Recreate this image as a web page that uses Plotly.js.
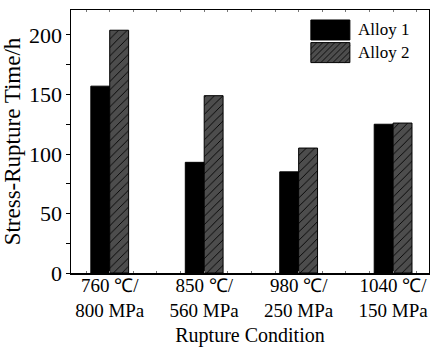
<!DOCTYPE html>
<html><head><meta charset="utf-8">
<script src="https://cdn.plot.ly/plotly-3.0.1.min.js"></script>
<style>html,body{margin:0;padding:0;background:#fff}#chart{width:430px;height:349px}</style>
</head><body><div id="chart"></div>
<script>
const categories = ["760 ℃/<br>800 MPa", "850 ℃/<br>560 MPa", "980 ℃/<br>250 MPa", "1040 ℃/<br>150 MPa"];
const seriesNames = ["Alloy 1", "Alloy 2"];
const alloy1 = [157, 93, 85, 125];
const alloy2 = [204, 149, 105, 126];
const yTicks = [0, 50, 100, 150, 200];

const xIdx = categories.map((_, i) => i);
const font = "Liberation Serif";

const traces = [
  {type: "bar", name: seriesNames[0], x: xIdx, y: alloy1,
   marker: {color: "#000000", line: {color: "#000", width: 1}}, showlegend: false},
  {type: "bar", name: seriesNames[1], x: xIdx, y: alloy2,
   marker: {color: "#4d4d4d", line: {color: "#000", width: 1},
            pattern: {shape: "/", fgcolor: "#000000", bgcolor: "#4d4d4d", size: 6, solidity: 0.15}},
   showlegend: false}
];

const L = 71, T = 10, W = 358, H = 263;
const shapes = [
  {type: "rect", xref: "paper", yref: "paper", x0: 0.670, x1: 0.779, y0: 0.886, y1: 0.962,
   fillcolor: "#000", line: {color: "#000", width: 1}},
  {type: "rect", xref: "paper", yref: "paper", x0: 0.670, x1: 0.779, y0: 0.800, y1: 0.876,
   fillcolor: "#4d4d4d", line: {color: "#000", width: 1}}
];
(function(){
  const px0 = 0.670*W, px1 = 0.779*W, pyb = 0.800*H, pyt = 0.876*H;
  const h = pyt - pyb;
  let d = "";
  for (let s = px0 - h; s < px1; s += 6) {
    let ax = s, ay = pyb, bx = s + h, by = pyt;
    if (ax < px0) { ay = pyb + (px0 - ax); ax = px0; }
    if (bx > px1) { by = pyt - (bx - px1); bx = px1; }
    if (bx <= ax) continue;
    d += `M${(ax/W).toFixed(4)},${(ay/H).toFixed(4)}L${(bx/W).toFixed(4)},${(by/H).toFixed(4)}`;
  }
  shapes.push({type: "path", xref: "paper", yref: "paper", path: d,
    line: {color: "#000", width: 0.8}, layer: "above"});
})();

const layout = {
  width: 430, height: 349,
  margin: {l: 71, r: 1, t: 10, b: 76},
  paper_bgcolor: "#fff", plot_bgcolor: "#fff",
  font: {family: font, color: "#000"},
  barmode: "group", bargap: 0.6, bargroupgap: 0,
  xaxis: {
    range: [-0.41, 3.38], tickvals: xIdx, ticktext: categories,
    tickfont: {size: 19, family: font}, showgrid: false, zeroline: false,
    showline: true, linecolor: "#000", linewidth: 1.5, mirror: "allticks",
    ticks: "inside", ticklen: 2, tickcolor: "#777", ticklabelstandoff: -5,
    minor: {dtick: 0.25, tick0: 0, ticks: "inside", ticklen: 2, tickcolor: "#777", showgrid: false},
    title: {text: "Rupture Condition", font: {size: 20, family: font}, standoff: 8}
  },
  yaxis: {
    range: [0, 221], tickvals: yTicks, tickfont: {size: 22, family: font},
    showgrid: false, zeroline: false, showline: true, linecolor: "#000", linewidth: 1.5, mirror: true,
    ticks: "outside", ticklen: 4, tickcolor: "#000", ticklabelstandoff: -1,
    minor: {dtick: 25, ticks: "outside", ticklen: 4, tickcolor: "#000", showgrid: false},
    title: {text: "Stress-Rupture Time/h", font: {size: 23, family: font}, standoff: 2}
  },
  shapes: shapes,
  annotations: [
    {xref: "paper", yref: "paper", x: 0.795, y: 0.924, text: seriesNames[0], showarrow: false,
     xanchor: "left", yanchor: "middle", font: {size: 17, family: font}},
    {xref: "paper", yref: "paper", x: 0.795, y: 0.838, text: seriesNames[1], showarrow: false,
     xanchor: "left", yanchor: "middle", font: {size: 17, family: font}}
  ]
};

Plotly.newPlot("chart", traces, layout, {staticPlot: true, displayModeBar: false});
</script>
</body></html>
